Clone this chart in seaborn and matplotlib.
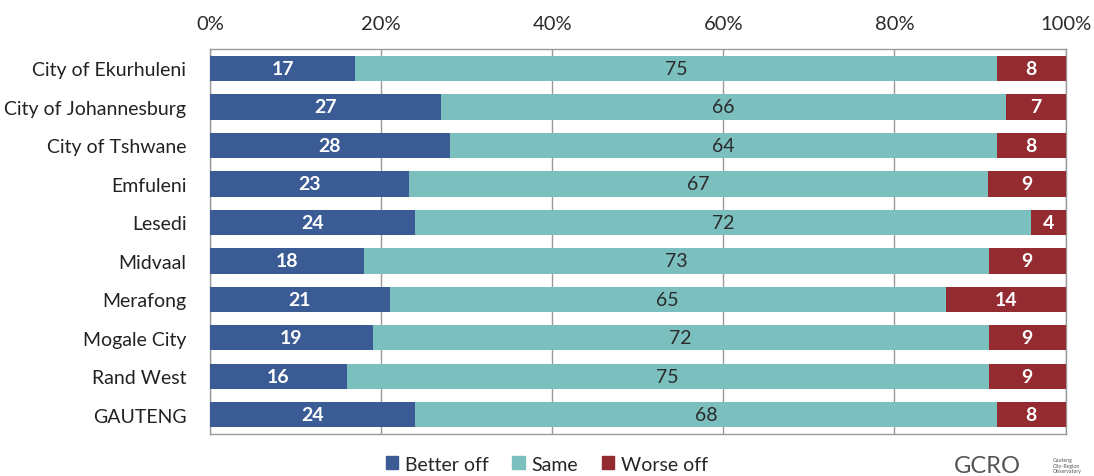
import matplotlib

matplotlib.use("Agg")
import matplotlib.pyplot as plt
import numpy as np
import pandas as pd
import seaborn as sns

municipalities = [
    "City of Ekurhuleni", "City of Johannesburg", "City of Tshwane", "Emfuleni",
    "Lesedi", "Midvaal", "Merafong", "Mogale City", "Rand West", "GAUTENG",
]
better_off = [17, 27, 28, 23, 24, 18, 21, 19, 16, 24]
same = [75, 66, 64, 67, 72, 73, 65, 72, 75, 68]
worse_off = [8, 7, 8, 9, 4, 9, 14, 9, 9, 8]

BLUE = "#3b5b95"
TEAL = "#7bbfbe"
RED = "#932b30"

sns.set_theme(style="white")
plt.rcParams["font.family"] = ["Lato", "DejaVu Sans"]

df = pd.DataFrame({"name": municipalities, "better": better_off, "same": same, "worse": worse_off})
total = df[["better", "same", "worse"]].sum(axis=1)
# 100% stacked: scale each row to its total
df["p_better"] = df["better"] / total * 100
df["p_same"] = df["same"] / total * 100
df["p_worse"] = df["worse"] / total * 100
df["c1"] = df["p_better"]
df["c2"] = df["p_better"] + df["p_same"]
df["c3"] = df["c2"] + df["p_worse"]

fig, ax = plt.subplots(figsize=(10.94, 4.77), dpi=100)
fig.subplots_adjust(left=0.192, right=0.974, top=0.895, bottom=0.088)

for col, color in [("c3", RED), ("c2", TEAL), ("c1", BLUE)]:
    sns.barplot(data=df, x=col, y="name", color=color, width=0.66, ax=ax,
                orient="h", saturation=1, linewidth=0, zorder=3)

for i, row in df.iterrows():
    ax.text(row["c1"] / 2, i, str(row["better"]), ha="center", va="center",
            color="white", fontsize=14, fontweight="bold", zorder=5)
    ax.text((row["c1"] + row["c2"]) / 2, i, str(row["same"]), ha="center", va="center",
            color="#2b2b2b", fontsize=14, zorder=5)
    ax.text((row["c2"] + row["c3"]) / 2, i, str(row["worse"]), ha="center", va="center",
            color="white", fontsize=14, fontweight="bold", zorder=5)

ax.set_xlim(0, 100)
ax.set_ylim(len(df) - 0.5, -0.5)
ax.set_xticks(np.arange(0, 101, 20))
ax.set_xticklabels([f"{t}%" for t in range(0, 101, 20)])
ax.xaxis.tick_top()
ax.tick_params(axis="x", length=0, pad=12, labelsize=14.5, colors="#2b2b2b")
ax.tick_params(axis="y", length=0, pad=17, labelsize=14, colors="#222222")
ax.set_xlabel("")
ax.set_ylabel("")
ax.grid(axis="x", color="#9a9a9a", linewidth=1, zorder=0)
for s in ax.spines.values():
    s.set_color("#9a9a9a")
    s.set_linewidth(1)

handles = [plt.Rectangle((0, 0), 1, 1, color=c) for c in (BLUE, TEAL, RED)]
fig.legend(handles, ["Better off", "Same", "Worse off"], loc="lower center",
           bbox_to_anchor=(0.5, -0.03), ncol=3, frameon=False, fontsize=14,
           handlelength=0.65, handleheight=0.65, handletextpad=0.35, columnspacing=1.2)

fig.text(0.872, 0.0, "GCRO", fontsize=17, color="#555555", ha="left", va="bottom")
fig.text(0.962, 0.006, "Gauteng\nCity-Region\nObservatory", fontsize=3.8, color="#555555",
         ha="left", va="bottom", linespacing=1.1)

fig.savefig("out.png", dpi=100)
